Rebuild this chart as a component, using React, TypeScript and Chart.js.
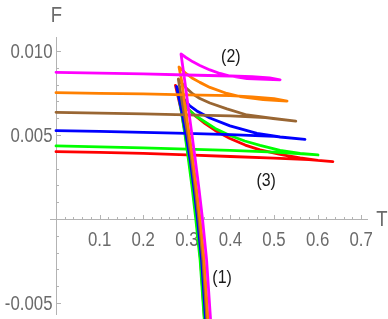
import React, { useEffect, useRef } from "react";
import { Chart, registerables } from "chart.js";

Chart.register(...registerables);

// Each curve: small-T branch (left to right), middle branch (back to the cusp), steep branch (down)
const redT = [0, 0.1, 0.2, 0.3, 0.4, 0.5, 0.58, 0.635, 0.601, 0.56, 0.514, 0.468, 0.434, 0.399, 0.365, 0.342, 0.321, 0.303, 0.287, 0.274, 0.2869, 0.297, 0.3053, 0.3144, 0.3222, 0.3317, 0.3406, 0.3422];
const redF = [0.00401, 0.00396, 0.0039, 0.00382, 0.00372, 0.00362, 0.00353, 0.00341, 0.00349, 0.00363, 0.00384, 0.00411, 0.0044, 0.00479, 0.00527, 0.00568, 0.0061, 0.00655, 0.00714, 0.00795, 0.00649, 0.005, 0.00351, 0.00173, 0, -0.00244, -0.00595, -0.00661];

const greenT = [0, 0.1, 0.2, 0.3, 0.4, 0.5, 0.601, 0.56, 0.514, 0.468, 0.433, 0.399, 0.365, 0.342, 0.321, 0.303, 0.289, 0.2787, 0.2869, 0.2959, 0.3039, 0.3128, 0.3206, 0.3305, 0.3399, 0.3415];
const greenF = [0.00435, 0.00429, 0.00423, 0.00416, 0.00408, 0.00398, 0.00381, 0.0039, 0.00408, 0.00438, 0.00464, 0.00497, 0.00539, 0.00577, 0.00613, 0.00652, 0.00702, 0.00774, 0.00649, 0.005, 0.00351, 0.00173, 0, -0.00244, -0.00595, -0.00661];

const blueT = [0, 0.1, 0.2, 0.3, 0.4, 0.5, 0.571, 0.514, 0.461, 0.399, 0.353, 0.323, 0.307, 0.291, 0.2764, 0.2878, 0.2982, 0.3078, 0.3167, 0.3245, 0.3339, 0.3429, 0.3445];
const blueF = [0.00526, 0.00521, 0.00516, 0.0051, 0.00502, 0.00492, 0.00474, 0.00488, 0.00509, 0.00554, 0.00601, 0.00643, 0.00673, 0.0072, 0.00789, 0.00649, 0.005, 0.00351, 0.00173, 0, -0.00244, -0.00595, -0.00661];

const brownT = [0, 0.1, 0.2, 0.3, 0.4, 0.48, 0.55, 0.498, 0.438, 0.392, 0.353, 0.33, 0.314, 0.298, 0.2805, 0.2924, 0.3023, 0.311, 0.3197, 0.3275, 0.3369, 0.3459, 0.3475];
const brownF = [0.00635, 0.0063, 0.00625, 0.0062, 0.00614, 0.00604, 0.00583, 0.00598, 0.00619, 0.00655, 0.0069, 0.00717, 0.00744, 0.0078, 0.00833, 0.00649, 0.005, 0.00351, 0.00173, 0, -0.00244, -0.00595, -0.00661];

const orangeT = [0, 0.1, 0.2, 0.3, 0.4, 0.45, 0.5, 0.53, 0.475, 0.422, 0.392, 0.353, 0.33, 0.314, 0.298, 0.2821, 0.2878, 0.297, 0.3057, 0.3138, 0.3225, 0.3303, 0.3397, 0.3486, 0.3502];
const orangeF = [0.00752, 0.00748, 0.00744, 0.00739, 0.00734, 0.00727, 0.00716, 0.00702, 0.00711, 0.00729, 0.00747, 0.00783, 0.00813, 0.00836, 0.00866, 0.00905, 0.00827, 0.00649, 0.005, 0.00351, 0.00173, 0, -0.00244, -0.00595, -0.00661];

const magentaT = [0, 0.1, 0.2, 0.3, 0.4, 0.45, 0.49, 0.514, 0.468, 0.438, 0.399, 0.376, 0.353, 0.33, 0.314, 0.298, 0.2867, 0.295, 0.3041, 0.3119, 0.3195, 0.3282, 0.336, 0.3454, 0.3544, 0.356];
const magentaF = [0.00873, 0.00868, 0.00863, 0.00857, 0.00851, 0.00847, 0.0084, 0.00828, 0.00833, 0.00836, 0.00851, 0.00866, 0.00887, 0.00914, 0.00935, 0.00961, 0.00982, 0.00827, 0.00649, 0.005, 0.00351, 0.00173, 0, -0.00244, -0.00595, -0.00661];

const seriesNames = ["red", "green", "blue", "brown", "orange", "magenta"];
const seriesColors = ["#ff0000", "#00ff00", "#0000ff", "#996633", "#ff8000", "#ff00ff"];
const seriesT = [redT, greenT, blueT, brownT, orangeT, magentaT];
const seriesF = [redF, greenF, blueF, brownF, orangeF, magentaF];

const xTickValues = [0.1, 0.2, 0.3, 0.4, 0.5, 0.6, 0.7];
const xTickLabels = ["0.1", "0.2", "0.3", "0.4", "0.5", "0.6", "0.7"];
const yTickValues = [0.01, 0.005, -0.005];
const yTickLabels = ["0.010", "0.005", "-0.005"];

const xTitle = "T";
const yTitle = "F";

const noteLabels = ["(1)", "(2)", "(3)"];
const noteT = [0.381, 0.401, 0.482];
const noteF = [-0.00351, 0.00964, 0.00226];

const X_MIN = -0.0138;
const X_MAX = 0.7156;
const Y_MIN = -0.00595;
const Y_MAX = 0.01083;

const FONT = "'Liberation Sans', Arial, sans-serif";
const AXIS_GRAY = "#b3b3b3";
const LABEL_GRAY = "#6b6b6b";
const NARROW = 0.84;

function narrowText(ctx: CanvasRenderingContext2D, text: string, x: number, y: number) {
  ctx.save();
  ctx.translate(x, y);
  ctx.scale(NARROW, 1);
  ctx.fillText(text, 0, 0);
  ctx.restore();
}

const axesPlugin = {
  id: "axesDecor",
  beforeDatasetsDraw(chart: any) {
    const { ctx, scales } = chart;
    const x = scales.x;
    const y = scales.y;
    const x0 = Math.round(x.getPixelForValue(0)) + 0.5;
    const y0 = Math.round(y.getPixelForValue(0)) + 0.5;
    ctx.save();
    ctx.strokeStyle = AXIS_GRAY;
    ctx.lineWidth = 1;
    ctx.beginPath();
    ctx.moveTo(x.left, y0);
    ctx.lineTo(x.right, y0);
    ctx.moveTo(x0, y.top);
    ctx.lineTo(x0, y.bottom - 4);
    ctx.stroke();
    for (let i = 1; i <= 35; i++) {
      const px = Math.round(x.getPixelForValue(i * 0.02)) + 0.5;
      const len = i % 5 === 0 ? 4.5 : 2.5;
      ctx.beginPath();
      ctx.moveTo(px, y0);
      ctx.lineTo(px, y0 - len);
      ctx.stroke();
    }
    for (let i = -5; i <= 10; i++) {
      if (i === 0) continue;
      const py = Math.round(y.getPixelForValue(i * 0.001)) + 0.5;
      const len = i % 5 === 0 ? 4.5 : 2.5;
      ctx.beginPath();
      ctx.moveTo(x0, py);
      ctx.lineTo(x0 + len, py);
      ctx.stroke();
    }
    ctx.fillStyle = LABEL_GRAY;
    ctx.font = `20px ${FONT}`;
    ctx.textBaseline = "alphabetic";
    ctx.textAlign = "center";
    for (let i = 0; i < xTickValues.length; i++) {
      narrowText(ctx, xTickLabels[i], x.getPixelForValue(xTickValues[i]), y0 + 26);
    }
    ctx.textAlign = "right";
    for (let i = 0; i < yTickValues.length; i++) {
      narrowText(ctx, yTickLabels[i], x0 - 4, y.getPixelForValue(yTickValues[i]) + 7);
    }
    ctx.font = `22px ${FONT}`;
    ctx.textAlign = "center";
    narrowText(ctx, yTitle, x0, y.top - 15);
    narrowText(ctx, xTitle, x.right + 14, y0 + 6);
    ctx.restore();
  },
  afterDraw(chart: any) {
    const { ctx, scales } = chart;
    const x = scales.x;
    const y = scales.y;
    ctx.save();
    ctx.fillStyle = "#1a1a1a";
    ctx.font = `19px ${FONT}`;
    ctx.textAlign = "center";
    ctx.textBaseline = "middle";
    for (let i = 0; i < noteLabels.length; i++) {
      narrowText(ctx, noteLabels[i], x.getPixelForValue(noteT[i]), y.getPixelForValue(noteF[i]));
    }
    ctx.restore();
  },
};

export default function App() {
  const canvasRef = useRef<HTMLCanvasElement | null>(null);

  useEffect(() => {
    document.body.style.margin = "0";
    const canvas = canvasRef.current;
    if (!canvas) return;
    const datasets = seriesNames.map((name, i) => ({
      label: name,
      data: seriesT[i].map((t, j) => ({ x: t, y: seriesF[i][j] })),
      borderColor: seriesColors[i],
      backgroundColor: seriesColors[i],
      borderWidth: 2.8,
      showLine: true,
      fill: false,
      pointRadius: 0,
      tension: 0,
      borderCapStyle: "round" as const,
      borderJoinStyle: "round" as const,
      order: seriesNames.length - i,
    }));
    const chart = new Chart(canvas, {
      type: "scatter",
      data: { datasets },
      options: {
        responsive: false,
        animation: false,
        devicePixelRatio: 1,
        layout: { padding: { left: 50, right: 20, top: 37, bottom: 0 } },
        plugins: { legend: { display: false }, tooltip: { enabled: false } },
        scales: {
          x: { type: "linear", display: false, min: X_MIN, max: X_MAX },
          y: { type: "linear", display: false, min: Y_MIN, max: Y_MAX },
        },
      },
      plugins: [axesPlugin],
    });
    return () => chart.destroy();
  }, []);

  return (
    <div style={{ position: "absolute", left: 0, top: 0, width: 388, height: 319 }}>
      <canvas ref={canvasRef} width={388} height={319} style={{ display: "block" }} />
    </div>
  );
}
